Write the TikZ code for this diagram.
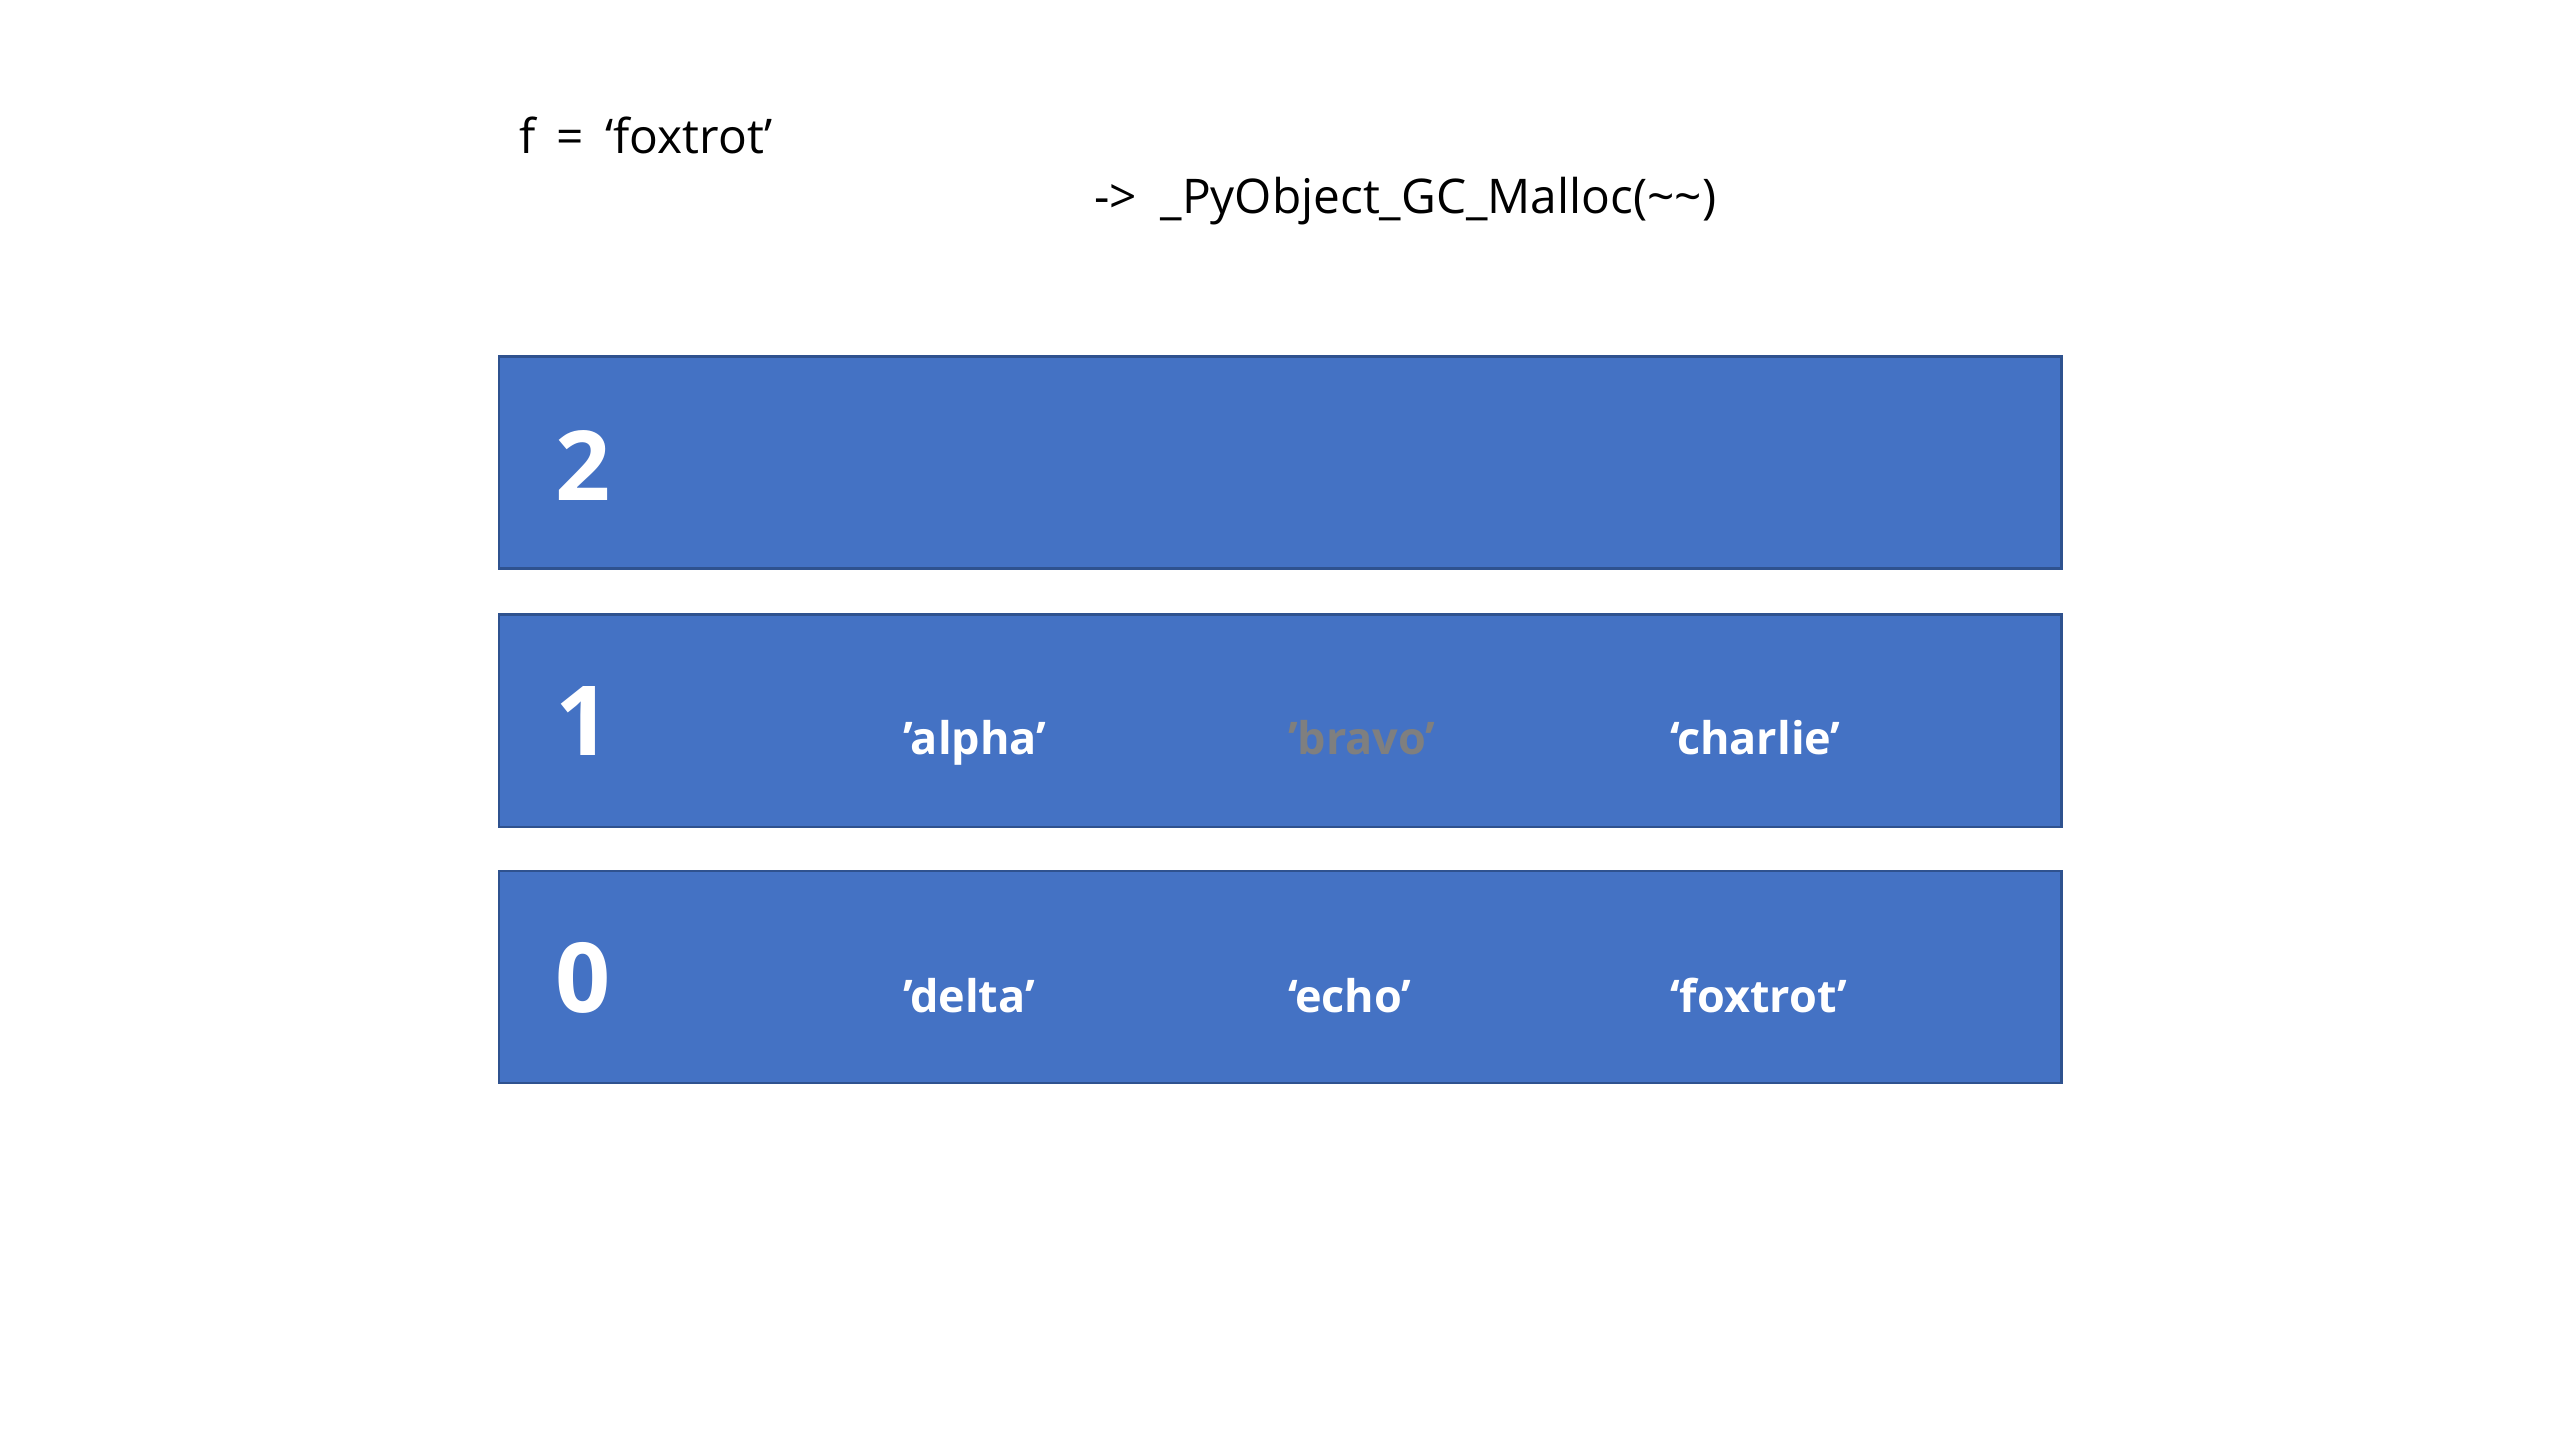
\documentclass[tikz,border=0pt]{standalone}
\usepackage{fontspec}
\setmainfont{Open Sans}
\definecolor{slotblue}{HTML}{4472C4}
\definecolor{slotedge}{HTML}{2F528F}
\definecolor{freedgray}{HTML}{7F7F7F}
\begin{document}
\begin{tikzpicture}[
  every node/.style = {inner sep=0pt, outer sep=0pt},
  gen/.style = {shape=rectangle, draw=slotedge, fill=slotblue,
    line width=0.85pt, minimum width=15.62cm, minimum height=2.12cm},
  genno/.style = {anchor=base west, text=white,
    font=\fontsize{27.5}{33}\selectfont\bfseries},
  obj/.style = {anchor=base west, text=white,
    font=\fontsize{12.8}{15}\selectfont\bfseries},
  code/.style = {anchor=base west, font=\fontsize{13.6}{16}\selectfont}]
  \useasboundingbox (0,0) rectangle (25.6,14.4);
  % code lines
  \node[code] (assign) at (5.19,12.86) {f\hspace{0.45em}=\hspace{0.45em}‘foxtrot’};
  \node[code] (alloc) at (10.94,12.26) {->\hspace{0.5em}\_PyObject\_GC\_Malloc(\textasciitilde\textasciitilde)};
  % generations
  \node[gen] (gen2) at (12.80,9.77) {};
  \node[gen] (gen1) at (12.80,7.19) {};
  \node[gen] (gen0) at (12.80,4.63) {};
  \node[genno] (no2) at (5.55,9.39) {2};
  \node[genno] (no1) at (5.55,6.84) {1};
  \node[genno] (no0) at (5.55,4.27) {0};
  % objects
  \node[obj] (alpha) at (9.03,6.85) {’alpha’};
  \node[obj, text=freedgray] (bravo) at (12.88,6.85) {’bravo’};
  \node[obj] (charlie) at (16.70,6.85) {‘charlie’};
  \node[obj] (delta) at (9.03,4.27) {’delta’};
  \node[obj] (echo) at (12.88,4.27) {‘echo’};
  \node[obj] (foxtrot) at (16.70,4.27) {‘foxtrot’};
\end{tikzpicture}
\end{document}
